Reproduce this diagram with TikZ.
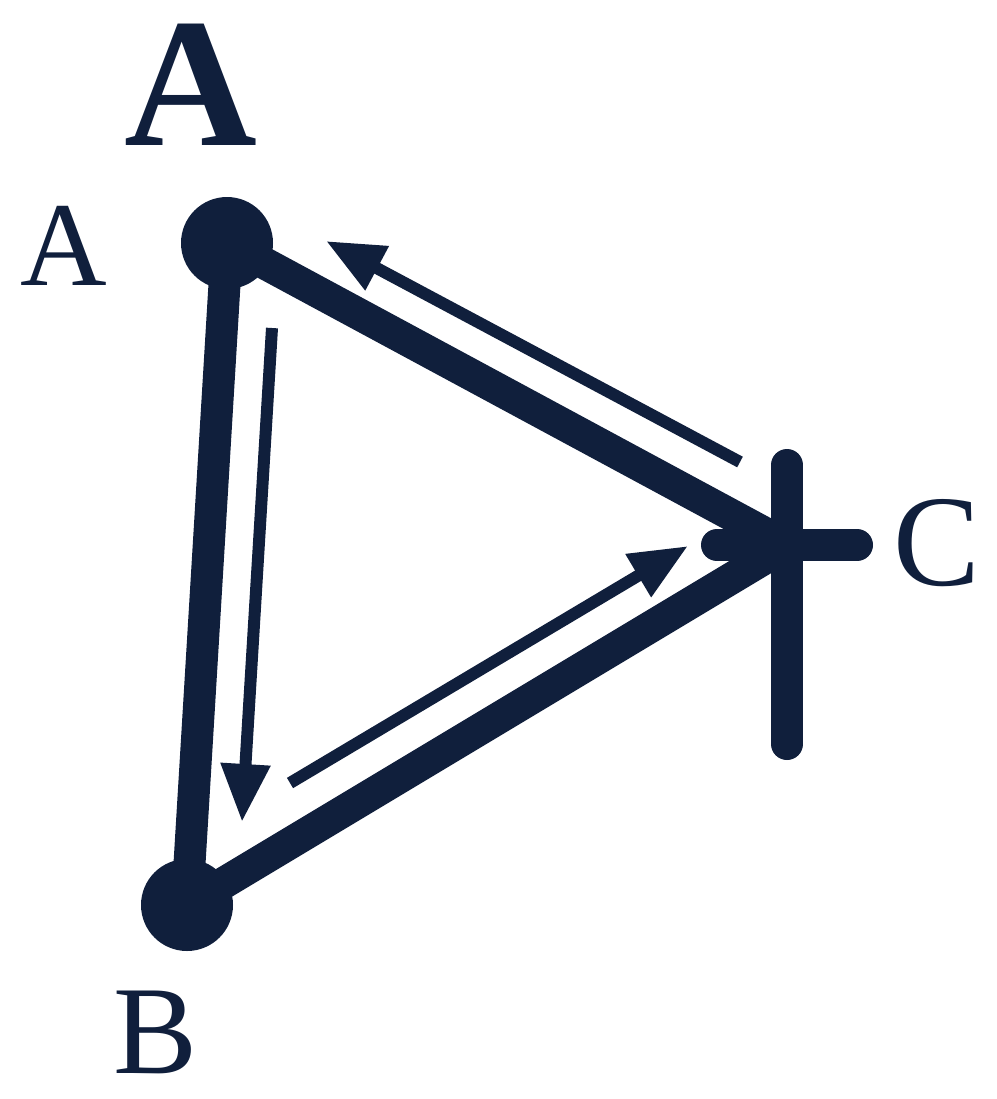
\documentclass[tikz,border=0pt]{standalone}
\usepackage{fontspec}
\setmainfont{LiberationSerif}[Extension=.ttf, UprightFont=*-Regular, BoldFont=*-Bold]
\usetikzlibrary{arrows.meta}
\definecolor{navy}{HTML}{101F3C}

\begin{document}
\begin{tikzpicture}[x=0.5pt, y=-0.5pt, >={Triangle[length=29pt,width=23.5pt]},
  edge/.style={draw=navy, line width=16pt},
  flow/.style={->, draw=navy, fill=navy, line width=6pt},
  point/.style={circle, fill=navy, minimum size=46pt, inner sep=0pt},
  lbl/.style={text=navy, inner sep=0pt}]

\useasboundingbox (0,0) rectangle (997,1099);

% --- Sommets ---
\coordinate (a) at (227,243);
\coordinate (b) at (187,905);
\coordinate (c) at (787,545);

\coordinate (ct) at (787,465);
\coordinate (cb) at (787,744);
\coordinate (cl) at (717,545);
\coordinate (cr) at (857,545);

% --- Aretes ---
\draw[edge] (a) -- (b);
\draw[edge] (a) -- (c);
\draw[edge] (b) -- (c);
\draw[edge, line cap=round] (ct) -- (cb);
\draw[edge, line cap=round] (cl) -- (cr);

\node[point] (pa) at (a) {};
\node[point] (pb) at (b) {};

% --- Fleches ---
\coordinate (f1s) at (740,462);
\coordinate (f1e) at (326,241);
\coordinate (f2s) at (272,328);
\coordinate (f2e) at (242,822);
\coordinate (f3s) at (290,783);
\coordinate (f3e) at (688,546);

\draw[flow] (f1s) -- (f1e);
\draw[flow] (f2s) -- (f2e);
\draw[flow] (f3s) -- (f3e);

% --- Etiquettes ---
\node[lbl, font=\fontsize{92}{92}\selectfont\bfseries] (titre) at (191,85) {A};
\node[lbl, font=\fontsize{60}{60}\selectfont] (la) at (64,246) {A};
\node[lbl, font=\fontsize{63}{63}\selectfont] (lb) at (156,1032) {B};
\node[lbl, font=\fontsize{65}{65}\selectfont] (lc) at (937,543) {C};

\end{tikzpicture}
\end{document}
